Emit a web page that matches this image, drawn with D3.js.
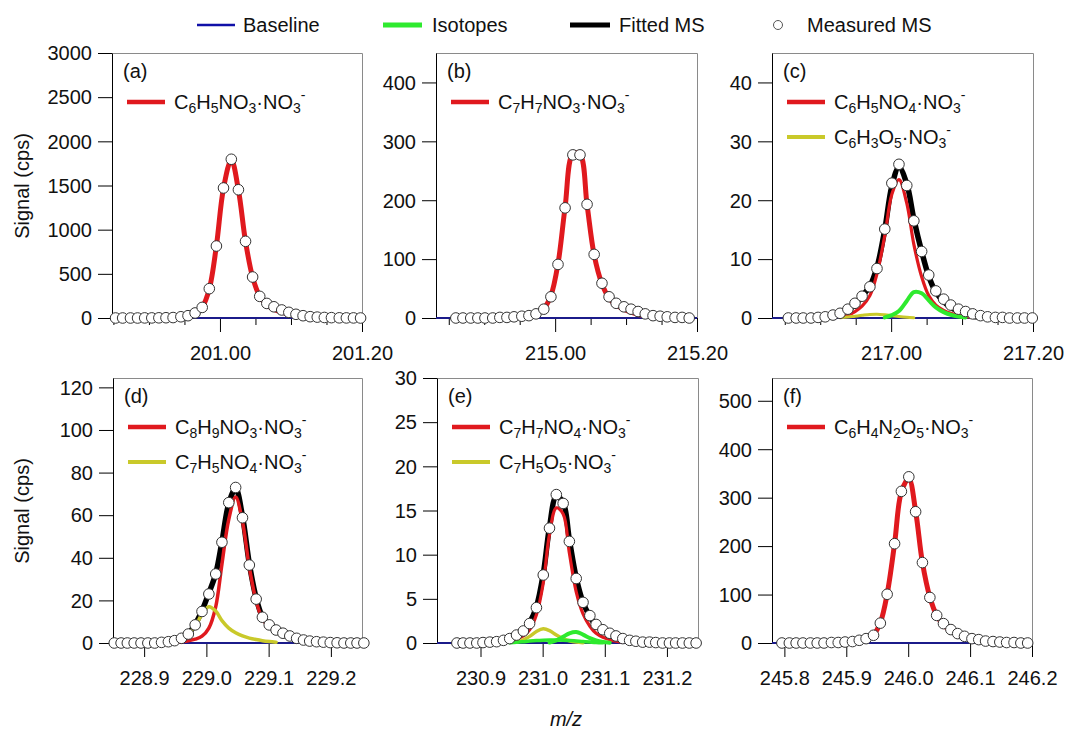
<!DOCTYPE html>
<html><head><meta charset="utf-8">
<script src="https://cdn.jsdelivr.net/npm/d3@7"></script>
<style>
body{margin:0;background:#fff;}
svg{display:block;}
</style>
</head><body>
<svg id="chart" width="1068" height="734"></svg>
<script>
// ---------------- DATA ----------------
// (a) C6H5NO3·NO3-
const xA = [200.853,200.863,200.874,200.884,200.894,200.904,200.914,200.924,200.934,200.945,200.955,200.965,200.975,200.985,200.995,201.005,201.016,201.026,201.036,201.046,201.056,201.066,201.076,201.087,201.097,201.107,201.117,201.127,201.137,201.147,201.157,201.168,201.178,201.188,201.198];
const measA = [0,0,0,0,1,1,2,3,5,14,26,57,120,332,815,1472,1797,1452,868,464,245,165,127,91,64,42,26,15,10,6,4,2,1,1,0];
const redA = [null,null,null,null,null,null,null,null,null,9,24,55,122,330,818,1470,1790,1450,866,462,245,150,100,66,44,28,17,10,null,null,null,null,null,null,null];

// (b) C7H7NO3·NO3-
const xB = [214.860,214.870,214.881,214.891,214.901,214.912,214.922,214.932,214.942,214.953,214.963,214.973,214.984,214.994,215.004,215.014,215.025,215.035,215.045,215.055,215.066,215.076,215.086,215.097,215.107,215.117,215.127,215.138,215.148,215.158,215.169,215.179,215.189];
const measB = [0,0,0,0,0,0,1,1,2,3,4,7,15,36,91,187,277,277,193,108,59,36,25,19,15,11,7,4,3,2,1,1,0];
const redB = [null,null,null,null,null,null,null,null,null,1,3,7,16,38,92,188,279,278,192,107,58,34,22,15,10,6,4,null,null,null,null,null,null];

// (c) C6H5NO4·NO3- , C6H3O5·NO3-
const xC = [216.855,216.866,216.876,216.887,216.897,216.907,216.918,216.928,216.939,216.949,216.959,216.970,216.980,216.991,217.001,217.011,217.022,217.032,217.043,217.053,217.063,217.074,217.084,217.095,217.105,217.115,217.126,217.136,217.147,217.157,217.167,217.178,217.188,217.199];
const measC = [0,0,0,0,0.1,0.2,0.5,0.8,1.5,2.5,3.7,5.3,8.4,15.1,22.9,26.1,22.5,16.5,11.3,7.3,4.6,3.2,2.2,1.5,1.1,0.7,0.4,0.2,0.1,0.1,0,0,0,0];
const fitC = [null,null,null,null,null,null,0.3,0.6,1.2,2.3,3.7,5.4,8.6,15,22.4,25.6,22.8,16.8,11.3,7.1,4.4,2.8,1.8,1.1,0.6,0.3,0.1,null,null,null,null,null,null,null];
const redC = [null,null,null,null,null,null,null,0.1,0.5,1.1,2.0,3.8,7.5,14,21,23.5,19.5,12.5,7,3.8,2.2,1.3,0.8,0.45,0.25,0.1,null,null,null,null,null,null,null,null];
const yellowC = [null,null,null,null,null,null,null,0.05,0.15,0.3,0.45,0.6,0.65,0.55,0.4,0.25,0.12,0.05,null,null,null,null,null,null,null,null,null,null,null,null,null,null,null,null];
const greenC = [null,null,null,null,null,null,null,null,null,null,null,null,null,0.1,0.5,1.2,2.9,4.4,4.2,3.0,1.8,1.0,0.55,0.25,0.1,null,null,null,null,null,null,null,null,null];

// (d) C8H9NO3·NO3- , C7H5NO4·NO3-
const xD = [228.852,228.863,228.873,228.884,228.895,228.906,228.917,228.928,228.939,228.949,228.960,228.971,228.982,228.993,229.004,229.015,229.025,229.036,229.047,229.058,229.069,229.080,229.090,229.101,229.112,229.123,229.134,229.145,229.156,229.166,229.177,229.188,229.199,229.210,229.221,229.232,229.242,229.253];
const measD = [0,0,0,0,0,0,0,0.3,0.6,1.1,2.2,4.2,8.5,14.8,23,32.4,47.3,65.9,73,58.8,36.6,20.6,12.1,8.5,6.1,4.6,3.3,2.2,1.4,0.9,0.6,0.4,0.2,0.1,0,0,0,0];
const fitD = [null,null,null,null,null,null,null,null,0.6,1.2,2.4,4.4,8.8,15.2,23.5,32.5,47.5,65.5,72.5,59.5,37.2,21.1,12.3,8.3,5.8,4.2,3.0,2.0,1.3,0.8,0.4,null,null,null,null,null,null,null];
const redD = [null,null,null,null,null,null,null,null,null,0.2,0.5,1.0,1.8,3.2,7,17,37,58,68.5,57,35.5,19.8,11.3,7.6,5.5,4.1,3.0,2.0,1.3,0.8,0.4,null,null,null,null,null,null,null];
const yellowD = [null,null,null,null,null,null,null,null,0.5,1.2,2.5,4.5,8,13.5,17,15,10.5,7,4.8,3.3,2.3,1.6,1.1,0.7,0.4,null,null,null,null,null,null,null,null,null,null,null,null,null];

// (e) C7H7NO4·NO3- , C7H5O5·NO3-
const xE = [230.862,230.872,230.883,230.894,230.904,230.915,230.926,230.937,230.947,230.958,230.969,230.979,230.990,231.001,231.011,231.022,231.033,231.043,231.054,231.065,231.076,231.086,231.097,231.108,231.118,231.129,231.140,231.150,231.161,231.172,231.182,231.193,231.204,231.214,231.225,231.236,231.247];
const measE = [0,0,0,0,0.05,0.1,0.15,0.3,0.5,0.9,1.36,2.2,4.0,7.7,13.0,16.8,15.8,11.5,7.3,4.6,3.1,2.1,1.5,1.1,0.8,0.5,0.3,0.2,0.1,0.1,0.05,0,0,0,0,0,0];
const fitE = [null,null,null,null,null,null,0.1,0.3,0.55,0.9,1.4,2.3,4.1,7.8,13.1,16.6,15.9,11.7,7.4,4.6,3.0,2.0,1.4,1.0,0.7,0.45,0.28,0.15,0.08,null,null,null,null,null,null,null,null];
const redE = [null,null,null,null,null,null,null,0.1,0.25,0.45,0.8,1.5,3.2,6.8,12.3,15.3,14.6,10.2,5.8,3.3,1.9,1.1,0.65,0.38,0.2,0.1,null,null,null,null,null,null,null,null,null,null,null];
const yellowE = [null,null,null,null,null,null,null,null,null,0.1,0.35,0.75,1.3,1.6,1.4,0.9,0.5,0.25,0.1,0.03,null,null,null,null,null,null,null,null,null,null,null,null,null,null,null,null,null];
const greenE = [null,null,null,null,null,null,null,null,null,null,null,null,null,null,0.05,0.3,0.7,1.1,1.25,0.95,0.55,0.28,0.12,0.04,null,null,null,null,null,null,null,null,null,null,null,null,null];
const greenE2 = [null,null,null,null,null,null,null,null,0.03,0.08,0.15,0.22,0.28,0.32,0.34,0.34,0.32,0.28,0.23,0.17,0.11,0.06,0.03,null,null,null,null,null,null,null,null,null,null,null,null,null,null];

// (f) C6H4N2O5·NO3-
const xF = [245.796,245.808,245.819,245.830,245.842,245.853,245.864,245.876,245.887,245.898,245.910,245.921,245.932,245.944,245.955,245.966,245.978,245.989,246.001,246.012,246.023,246.035,246.046,246.057,246.069,246.080,246.091,246.103,246.114,246.125,246.137,246.148,246.159,246.171,246.182,246.193];
const measF = [0,0,0,0,0,0,0,1,1,2,3,5.6,9,16,41,100.6,205,313,343,271,166,94,57,40,27.7,19.4,13.8,9,7,4,3,2,1,1,0,0];
const redF = [null,null,null,null,null,null,null,null,null,null,null,3,7,17,42,101,205,312,339,272,166,95,57,37,25,17,12,8,5,null,null,null,null,null,null,null];

// axis ranges and tick labels
const xDomains = [[200.848,201.2],[214.832,215.2],[216.832,217.2],[228.85,229.25],[230.83,231.25],[245.78,246.2]];
const yMaxes = [3000, 450, 45, 124.4, 30, 547];
const yTicks = [[0,500,1000,1500,2000,2500,3000],[0,100,200,300,400],[0,10,20,30,40],[0,20,40,60,80,100,120],[0,5,10,15,20,25,30],[0,100,200,300,400,500]];
const xMajor = [[201.00,201.20],[215.00,215.20],[217.00,217.20],[228.9,229.0,229.1,229.2],[230.9,231.0,231.1,231.2],[245.8,245.9,246.0,246.1,246.2]];
const xMajorLabels = [["201.00","201.20"],["215.00","215.20"],["217.00","217.20"],["228.9","229.0","229.1","229.2"],["230.9","231.0","231.1","231.2"],["245.8","245.9","246.0","246.1","246.2"]];
const panelLetters = ["(a)","(b)","(c)","(d)","(e)","(f)"];
const legendLabels = [
  ["C_6H_5NO_3·NO_3^-"],
  ["C_7H_7NO_3·NO_3^-"],
  ["C_6H_5NO_4·NO_3^-","C_6H_3O_5·NO_3^-"],
  ["C_8H_9NO_3·NO_3^-","C_7H_5NO_4·NO_3^-"],
  ["C_7H_7NO_4·NO_3^-","C_7H_5O_5·NO_3^-"],
  ["C_6H_4N_2O_5·NO_3^-"]
];
const seriesNames = ["Baseline","Isotopes","Fitted MS","Measured MS"];

// ---------------- STYLE / LAYOUT ----------------
const FONT = '"Liberation Sans", Arial, Helvetica, sans-serif';
const RED = "#e0191e", GREEN = "#2eea2e", YELLOW = "#c9c92a", NAVY = "#1b1b8a", BLACK = "#000";
const boxes = [[112,362,53,318],[436,697,53,318],[772,1033,53,318],[113,362,378,643],[437,698,378,643],[772,1032,378,643]];

const panels = [
  {x:xA, meas:measA, fit:null, comps:[{y:redA,c:RED,w:5}], legend:[RED], minor:true},
  {x:xB, meas:measB, fit:null, comps:[{y:redB,c:RED,w:5}], legend:[RED], minor:true},
  {x:xC, meas:measC, fit:fitC, comps:[{y:redC,c:RED,w:3.2},{y:yellowC,c:YELLOW,w:3},{y:greenC,c:GREEN,w:4}], legend:[RED,YELLOW], minor:true},
  {x:xD, meas:measD, fit:fitD, comps:[{y:redD,c:RED,w:3.5},{y:yellowD,c:YELLOW,w:3.5}], legend:[RED,YELLOW], minor:false},
  {x:xE, meas:measE, fit:fitE, comps:[{y:redE,c:RED,w:3.2},{y:yellowE,c:YELLOW,w:3.5},{y:greenE2,c:GREEN,w:3.5},{y:greenE,c:GREEN,w:4}], legend:[RED,YELLOW], minor:false},
  {x:xF, meas:measF, fit:null, comps:[{y:redF,c:RED,w:5}], legend:[RED], minor:false}
];

const svg = d3.select("#chart");
svg.append("rect").attr("width",1068).attr("height",734).attr("fill","#fff");

function formulaText(sel, str){
  const runs = [];
  let i = 0;
  while(i < str.length){
    let ch = str[i], type = "n";
    if(ch === "_"){ type = "sub"; ch = str[i+1]; i += 2; }
    else if(ch === "^"){ type = "sup"; ch = str[i+1]; i += 2; }
    else { i += 1; }
    if(runs.length && runs[runs.length-1].type === type) runs[runs.length-1].t += ch;
    else runs.push({type, t: ch});
  }
  const off = {n:0, sub:4, sup:-9};
  let cur = 0;
  runs.forEach(r => {
    const target = off[r.type];
    sel.append("tspan").attr("dy", target - cur).attr("font-size", r.type === "n" ? 20 : 14).text(r.t);
    cur = target;
  });
}

const curveGen = (xs, ys) => d3.line()
  .defined(d => d[1] != null)
  .x(d => xs(d[0])).y(d => ys(d[1]))
  .curve(d3.curveCatmullRom.alpha(0.5));

panels.forEach((p, pi) => {
  const [L,R,T,B] = boxes[pi];
  const xs = d3.scaleLinear().domain(xDomains[pi]).range([L,R]);
  const ys = d3.scaleLinear().domain([0,yMaxes[pi]]).range([B,T]);
  const g = svg.append("g");

  g.append("path").attr("d", `M${L},${T+0.5}H${R+0.5}V${B}`).attr("fill","none").attr("stroke","#8a8a8a").attr("stroke-width",1);

  const ya = g.append("g").attr("transform",`translate(${L},0)`)
    .call(d3.axisLeft(ys).tickValues(yTicks[pi]).tickSize(14).tickPadding(6).tickSizeOuter(0).tickFormat(d3.format("d")));
  const labels = xMajorLabels[pi];
  const xa = g.append("g").attr("transform",`translate(0,${B})`)
    .call(d3.axisBottom(xs).tickValues(xMajor[pi]).tickSize(14).tickPadding(14).tickSizeOuter(0).tickFormat((d,i)=>labels[i]));
  if(p.minor){
    const [d0,d1] = xDomains[pi];
    const minor = d3.range(Math.ceil(d0/0.05 - 1e-6), Math.floor(d1/0.05 + 1e-6)+1).map(k => +(k*0.05).toFixed(3))
      .filter(v => !xMajor[pi].some(m => Math.abs(m - v) < 1e-6));
    const mi = g.append("g").attr("transform",`translate(0,${B})`)
      .call(d3.axisBottom(xs).tickValues(minor).tickSize(7).tickFormat(""));
    mi.select(".domain").remove();
    mi.selectAll("line").attr("stroke", BLACK);
  }
  [ya, xa].forEach(a => {
    a.attr("font-family", FONT).attr("font-size", 20);
    a.selectAll("text").attr("fill","#111");
    a.selectAll("line").attr("stroke", BLACK);
    a.select(".domain").attr("stroke", BLACK);
  });
  ya.selectAll("text").attr("dy","0.34em");

  g.append("line").attr("x1",L).attr("x2",R).attr("y1",ys(0)).attr("y2",ys(0))
    .attr("stroke",NAVY).attr("stroke-width",2);

  const pts = (ys0) => p.x.map((v,i)=>[v, ys0[i]]);
  const lg = curveGen(xs, ys);
  if(p.fit){
    g.append("path").attr("d", lg(pts(p.fit))).attr("fill","none").attr("stroke",BLACK).attr("stroke-width",5.5).attr("stroke-linejoin","round");
  }
  p.comps.forEach(c => {
    g.append("path").attr("d", lg(pts(c.y))).attr("fill","none").attr("stroke",c.c).attr("stroke-width",c.w).attr("stroke-linejoin","round").attr("stroke-linecap","round");
  });

  g.append("g").selectAll("circle").data(pts(p.meas)).join("circle")
    .attr("cx", d => xs(d[0])).attr("cy", d => ys(d[1])).attr("r", 5.3)
    .attr("fill","#fff").attr("stroke","#333").attr("stroke-width",1);

  g.append("text").attr("x", L+11).attr("y", T+25).attr("font-family",FONT).attr("font-size",20).attr("fill","#111").text(panelLetters[pi]);
  legendLabels[pi].forEach((lab, li) => {
    const yy = T + 49 + li*35;
    g.append("line").attr("x1",L+15).attr("x2",L+53).attr("y1",yy).attr("y2",yy)
      .attr("stroke", p.legend[li]).attr("stroke-width", li === 0 ? 4.5 : 4);
    const t = g.append("text").attr("x", L+62).attr("y", yy+7).attr("font-family",FONT).attr("font-size",20).attr("fill","#111");
    formulaText(t, lab);
  });
});

[[29,186],[29,511]].forEach(([x,y]) => {
  svg.append("text").attr("transform",`translate(${x},${y}) rotate(-90)`).attr("text-anchor","middle")
    .attr("font-family",FONT).attr("font-size",20).attr("fill","#111").text("Signal (cps)");
});
svg.append("text").attr("x",566).attr("y",726).attr("text-anchor","middle")
  .attr("font-family",FONT).attr("font-size",20).attr("font-style","italic").attr("fill","#111").text("m/z");

const lgY = 25;
const topLeg = svg.append("g").attr("font-family",FONT).attr("font-size",20).attr("fill","#111");
topLeg.append("line").attr("x1",197).attr("x2",235).attr("y1",lgY).attr("y2",lgY).attr("stroke","#1010a8").attr("stroke-width",2.5);
topLeg.append("text").attr("x",243).attr("y",lgY+7).text(seriesNames[0]);
topLeg.append("line").attr("x1",383).attr("x2",422).attr("y1",lgY).attr("y2",lgY).attr("stroke",GREEN).attr("stroke-width",5);
topLeg.append("text").attr("x",432).attr("y",lgY+7).text(seriesNames[1]);
topLeg.append("line").attr("x1",570).attr("x2",610).attr("y1",lgY).attr("y2",lgY).attr("stroke",BLACK).attr("stroke-width",5);
topLeg.append("text").attr("x",619).attr("y",lgY+7).text(seriesNames[2]);
topLeg.append("circle").attr("cx",778).attr("cy",lgY).attr("r",4.5).attr("fill","#fff").attr("stroke","#555").attr("stroke-width",1);
topLeg.append("text").attr("x",807).attr("y",lgY+7).text(seriesNames[3]);
</script>
</body></html>
